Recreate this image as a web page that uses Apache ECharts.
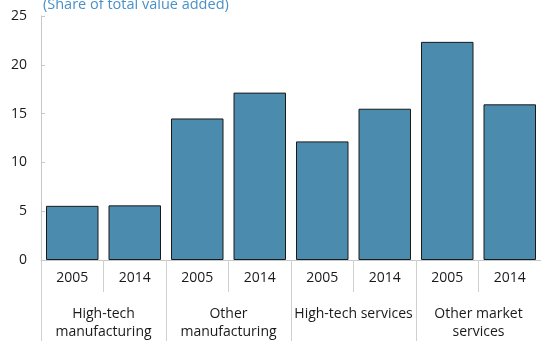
<!DOCTYPE html>
<html>
<head>
<meta charset="utf-8">
<script src="https://cdn.jsdelivr.net/npm/echarts@6/dist/echarts.min.js"></script>
<style>
  html, body { margin: 0; padding: 0; background: #fff; }
  #chart { width: 541px; height: 341px; }
</style>
</head>
<body>
<div id="chart"></div>
<script>
  // data
  const years = ['2005', '2014', '2005', '2014', '2005', '2014', '2005', '2014'];
  const groups = ['High-tech\nmanufacturing', 'Other\nmanufacturing', 'High-tech services', 'Other market\nservices'];
  const shares = [5.55, 5.6, 14.5, 17.15, 12.15, 15.5, 22.35, 15.95];
  const yTicks = [0, 5, 10, 15, 20, 25];

  const font = '"Open Sans", "Noto Sans", sans-serif';
  const chart = echarts.init(document.getElementById('chart'));

  chart.setOption({
    animation: false,
    title: {
      text: '(Share of total value added)',
      left: 38,
      top: -8,
      textStyle: { color: '#4a90c8', fontSize: 14.5, fontWeight: 'normal', fontFamily: font }
    },
    grid: { left: 41, top: 16, width: 504, bottom: 81 },
    xAxis: [
      {
        type: 'category',
        data: years,
        position: 'bottom',
        axisLine: { show: true, lineStyle: { color: '#c8c8c8' } },
        axisTick: { show: true, interval: 0, length: 32, lineStyle: { color: '#d0d0d0' } },
        axisLabel: { interval: 0, color: '#1a1a1a', fontSize: 14, fontFamily: font, margin: 11 }
      },
      {
        type: 'category',
        data: groups,
        position: 'bottom',
        axisLine: { show: false },
        axisTick: { show: true, interval: 0, length: 90, lineStyle: { color: '#d0d0d0' } },
        axisLabel: { interval: 0, color: '#1a1a1a', fontSize: 14, fontFamily: font, margin: 45, lineHeight: 18 }
      }
    ],
    yAxis: {
      type: 'value',
      min: yTicks[0],
      max: yTicks[yTicks.length - 1],
      interval: 5,
      splitLine: { show: false },
      axisLine: { show: true, lineStyle: { color: '#c8c8c8' } },
      axisTick: { show: true, inside: true, length: 4, lineStyle: { color: '#c8c8c8' } },
      axisLabel: { color: '#1a1a1a', fontSize: 14, fontFamily: font, margin: 14 }
    },
    series: [{
      type: 'bar',
      xAxisIndex: 0,
      data: shares,
      barCategoryGap: '16%',
      itemStyle: { color: '#4b8bad', borderColor: '#1a1a1a', borderWidth: 1 }
    }]
  });
</script>
</body>
</html>
